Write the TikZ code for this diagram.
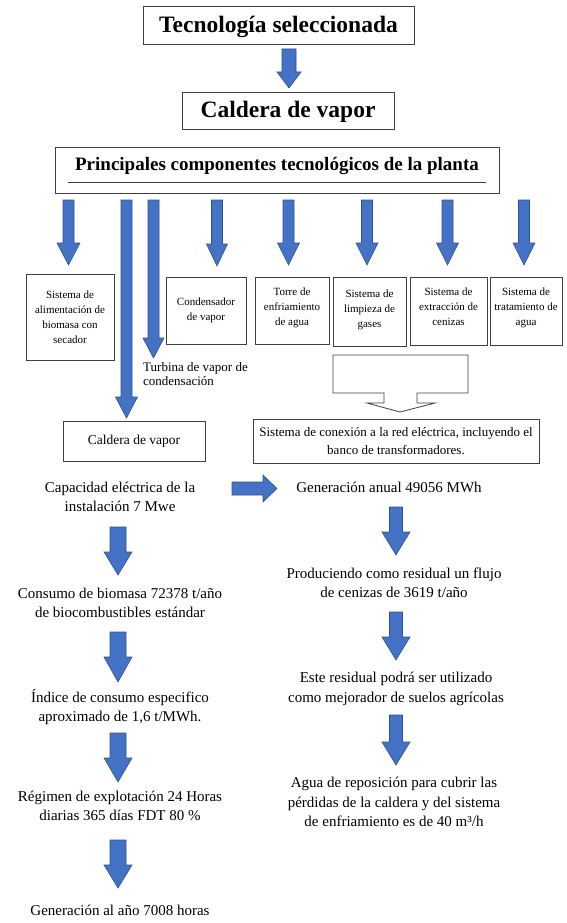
\documentclass[tikz,border=0pt]{standalone}
\usepackage{fontspec}
\setmainfont{Liberation Serif}
\definecolor{afill}{HTML}{4472C4}
\definecolor{aedge}{HTML}{2F528F}
\definecolor{bline}{HTML}{404040}
\newcommand{\blockdown}[6]{%
  \filldraw[barrow] (#1-#5,#2) -- (#1+#5,#2) -- (#1+#5,#3) -- (#1+#6,#3) -- (#1,#4) -- (#1-#6,#3) -- (#1-#5,#3) -- cycle;}
\begin{document}
\begin{tikzpicture}[x=1pt,y=-1pt,
  box/.style={draw=bline, line width=0.8pt, inner sep=1pt, align=center},
  barrow/.style={fill=afill, draw=aedge, line width=0.6pt, line join=miter},
  body/.style={align=center, inner sep=0pt, font=\fontsize{15}{19.5}\selectfont},
  small/.style={font=\fontsize{11}{15}\selectfont},
  bigtitle/.style={font=\bfseries\fontsize{23.5}{26}\selectfont}]
\useasboundingbox[fill=white] (0,0) rectangle (567,923);

% top boxes
\node[box, bigtitle, minimum width=271pt, minimum height=38pt, text height=20pt] (tec) at (278.5,25) {Tecnología seleccionada};
\node[box, bigtitle, minimum width=212pt, minimum height=37pt, text height=19pt] (cal) at (288,110.5) {Caldera de vapor};
\node[box, minimum width=444pt, minimum height=46pt] (pcp) at (277,170) {};
\node[inner sep=0pt, font=\bfseries\fontsize{19}{22}\selectfont] (pcpt) at (277,166) {Principales componentes tecnológicos de la planta};
\draw[bline, line width=0.6pt] (68,182) -- (486,182);

% arrows
\blockdown{289}{49}{72}{88}{7}{12}
\blockdown{68.5}{200}{243}{265}{5.5}{11.5}
\blockdown{126.5}{200}{397}{418}{5.5}{11}
\blockdown{153.5}{200}{338}{358}{5.5}{10.5}
\blockdown{217}{200}{244}{266}{5.5}{10.5}
\blockdown{288.5}{200}{243}{265}{5.5}{11}
\blockdown{367}{200}{243}{265}{5.5}{11}
\blockdown{447.5}{200}{243}{265}{5.5}{11}
\blockdown{524}{200}{243}{265}{5.5}{11}

% component boxes
\node[box, small, minimum width=88pt, minimum height=86pt] (bio) at (70,317) {Sistema de\\alimentación de\\biomasa con\\secador};
\node[box, small, minimum width=80pt, minimum height=67pt] (con) at (206,310.5) {Condensador\\de vapor};
\node[box, small, minimum width=74pt, minimum height=67pt, text depth=8pt] (tor) at (292,310.5) {Torre de\\enfriamiento\\de agua};
\node[box, small, minimum width=73pt, minimum height=69pt, text depth=5pt] (lim) at (369.5,311.5) {Sistema de\\limpieza de\\gases};
\node[box, small, minimum width=77pt, minimum height=68pt, text depth=8pt] (cen) at (448.5,311) {Sistema de\\extracción de\\cenizas};
\node[box, small, minimum width=72pt, minimum height=68pt, text depth=8pt] (tra) at (526,311) {Sistema de\\tratamiento de\\agua};

\node[anchor=north west, inner sep=0pt, align=left, font=\fontsize{13}{14.5}\selectfont] (tur) at (143,362) {Turbina de vapor de\\condensación};

% callout arrow
\draw[bline, line width=0.8pt, line join=miter] (384,393) -- (333,393) -- (333,355) -- (468,355) -- (468,393) -- (417,393) -- (417,403) -- (435,403) -- (400,412) -- (367,403) -- (384,403) -- cycle;

\node[box, font=\fontsize{13.5}{14}\selectfont, minimum width=142pt, minimum height=40pt] (cal2) at (134,441) {Caldera de vapor};
\node[box, font=\fontsize{13}{18}\selectfont, minimum width=286pt, minimum height=44pt] (red) at (396,441) {Sistema de conexión a la red eléctrica, incluyendo el\\banco de transformadores.};

% lower flow
\node[body] (cap) at (120,497) {Capacidad eléctrica de la\\instalación 7 Mwe};
\node[body] (gen) at (389,487) {Generación anual 49056 MWh};
\filldraw[barrow] (232,482) -- (263,482) -- (263,475) -- (277,488.5) -- (263,502) -- (263,495) -- (232,495) -- cycle;

\blockdown{118}{527}{552}{575}{8}{14}
\node[body] (cons) at (120,603) {Consumo de biomasa 72378 t/año\\de biocombustibles estándar};
\blockdown{118}{632}{657}{682}{8}{14}
\node[body] (ind) at (120,707) {Índice de consumo especifico\\aproximado de 1,6 t/MWh.};
\blockdown{118}{733}{758}{782}{8}{14}
\node[body] (reg) at (120,806) {Régimen de explotación 24 Horas\\diarias 365 días FDT 80 \%};
\blockdown{118}{840}{865}{888}{8}{14}
\node[body] (gal) at (120,910) {Generación al año 7008 horas};

\blockdown{396}{507}{532}{555}{6.5}{14}
\node[body] (prod) at (394,583) {Produciendo como residual un flujo\\de cenizas de 3619 t/año};
\blockdown{396}{612}{637}{660}{6.5}{14}
\node[body] (este) at (396,689) {Este residual podrá ser utilizado\\como mejorador de suelos agrícolas};
\blockdown{396}{715}{742}{765}{6.5}{14}
\node[body] (agua) at (394,802) {Agua de reposición para cubrir las\\pérdidas de la caldera y del sistema\\de enfriamiento es de 40 m³/h};
\end{tikzpicture}
\end{document}
